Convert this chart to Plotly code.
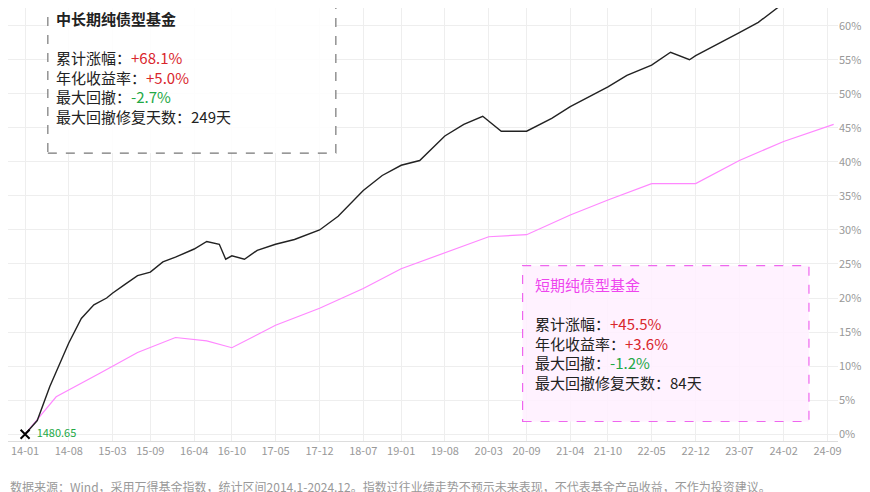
import pandas as pd
import plotly.graph_objects as go

# 中长期纯债型基金 (累计涨幅 %)
long_dates = ['2014-01', '2014-03', '2014-05', '2014-08', '2014-10', '2014-12', '2015-02', '2015-03',
              '2015-05', '2015-07', '2015-09', '2015-11', '2016-01', '2016-04', '2016-06', '2016-08',
              '2016-09', '2016-10', '2016-12', '2017-02', '2017-05', '2017-08', '2017-12', '2018-03',
              '2018-07', '2018-10', '2019-01', '2019-04', '2019-08', '2019-11', '2020-02', '2020-05',
              '2020-09', '2021-01', '2021-04', '2021-10', '2022-01', '2022-05', '2022-08', '2022-11',
              '2022-12', '2023-03', '2023-07', '2023-10', '2024-01', '2024-05', '2024-09', '2024-12']
long_vals = [0, 2, 7, 13.4, 17, 19, 20, 20.7, 22, 23.3, 23.8, 25.3, 26, 27.2, 28.3, 27.9,
             25.7, 26.2, 25.7, 27, 27.9, 28.6, 30, 32, 35.8, 38, 39.5, 40.2, 43.8, 45.5, 46.7, 44.5,
             44.5, 46.4, 48.1, 51, 52.7, 54.2, 56.1, 55, 55.6, 57, 59, 60.5, 62.6, 65, 67, 68.1]

# 短期纯债型基金
short_dates = ['2014-01', '2014-06', '2015-01', '2015-07', '2016-01', '2016-06', '2016-10', '2017-05',
               '2017-12', '2018-07', '2019-01', '2019-08', '2020-03', '2020-09', '2021-04', '2021-10',
               '2022-05', '2022-12', '2023-07', '2024-02', '2024-09', '2024-10']
short_vals = [0, 5.5, 9, 12, 14.2, 13.7, 12.7, 16, 18.5, 21.4, 24.3, 26.7, 29, 29.3, 32.2, 34.4,
              36.8, 36.8, 40.2, 43, 45.2, 45.5]

tick_labels = ['14-01', '14-08', '15-03', '15-09', '16-04', '16-10', '17-05', '17-12', '18-07', '19-01',
               '19-08', '20-03', '20-09', '21-04', '21-10', '22-05', '22-12', '23-07', '24-02', '24-09']
tick_vals = ['20' + t + '-01' for t in tick_labels]

FONT = 'Noto Sans CJK SC'
RED, GREEN, PINK = '#d9262c', '#22a845', '#ee44ee'

fig = go.Figure()
fig.add_trace(go.Scatter(x=pd.to_datetime(short_dates), y=short_vals, mode='lines',
                         line=dict(color='#ff88ff', width=1.2)))
fig.add_trace(go.Scatter(x=pd.to_datetime(long_dates), y=long_vals, mode='lines',
                         line=dict(color='#222222', width=1.4)))
fig.add_trace(go.Scatter(x=pd.to_datetime(['2014-01']), y=[0], mode='markers+text',
                         marker=dict(symbol='x-thin', size=9, line=dict(color='black', width=2)),
                         text=['  1480.65'], textposition='middle right',
                         textfont=dict(color=GREEN, size=11, family=FONT)))


def box(x0, y0, x1, y1, color, fill):
    fig.add_shape(type='rect', xref='paper', yref='paper', x0=x0, y0=y0, x1=x1, y1=y1,
                  line=dict(color=color, width=1.2, dash='dash'), fillcolor=fill, layer='above')


def stats(x, y, title, tcolor, a, b, c, d):
    txt = (f'<span style="color:{tcolor}">{title}</span><br><br>'
           f'累计涨幅：<span style="color:{RED}">{a}</span><br>'
           f'年化收益率：<span style="color:{RED}">{b}</span><br>'
           f'最大回撤：<span style="color:{GREEN}">{c}</span><br>'
           f'最大回撤修复天数：{d}')
    fig.add_annotation(xref='paper', yref='paper', x=x, y=y, xanchor='left', yanchor='top',
                       text=txt, showarrow=False, align='left',
                       font=dict(family=FONT, size=15, color='#222222'))


box(0.048, 0.665, 0.395, 1.03, '#777777', 'rgba(255,255,255,0.85)')
stats(0.056, 1.005, '<b>中长期纯债型基金</b>', '#222222', '+68.1%', '+5.0%', '-2.7%', '249天')
box(0.62, 0.045, 0.965, 0.405, '#ee66ee', 'rgba(255,240,255,0.85)')
stats(0.632, 0.39, '短期纯债型基金', PINK, '+45.5%', '+3.6%', '-1.2%', '84天')

fig.add_annotation(xref='paper', yref='paper', x=0.0, y=-0.105, xanchor='left', yanchor='middle',
                   showarrow=False,
                   text='数据来源：Wind，采用万得基金指数，统计区间2014.1-2024.12。指数过往业绩走势不预示未来表现，不代表基金产品收益，不作为投资建议。',
                   font=dict(family=FONT, size=12, color='#999999'))

fig.update_layout(
    width=870, height=492, margin=dict(l=0, r=40, t=0, b=59),
    plot_bgcolor='white', paper_bgcolor='white', showlegend=False,
    font=dict(family=FONT),
    xaxis=dict(type='date', range=['2013-10-10', '2024-10-22'], tickvals=tick_vals, ticktext=tick_labels,
               showgrid=True, gridcolor='#eeeeee', tickfont=dict(size=11, color='#999999'),
               showline=True, linecolor='#dddddd', zeroline=False, ticks=''),
    yaxis=dict(side='right', range=[-1, 62.6], tickvals=list(range(0, 65, 5)),
               ticktext=[f'{v}%' for v in range(0, 65, 5)], showgrid=True, gridcolor='#eeeeee',
               zeroline=False, tickfont=dict(size=11, color='#999999')),
)

fig.write_html('out.html')
